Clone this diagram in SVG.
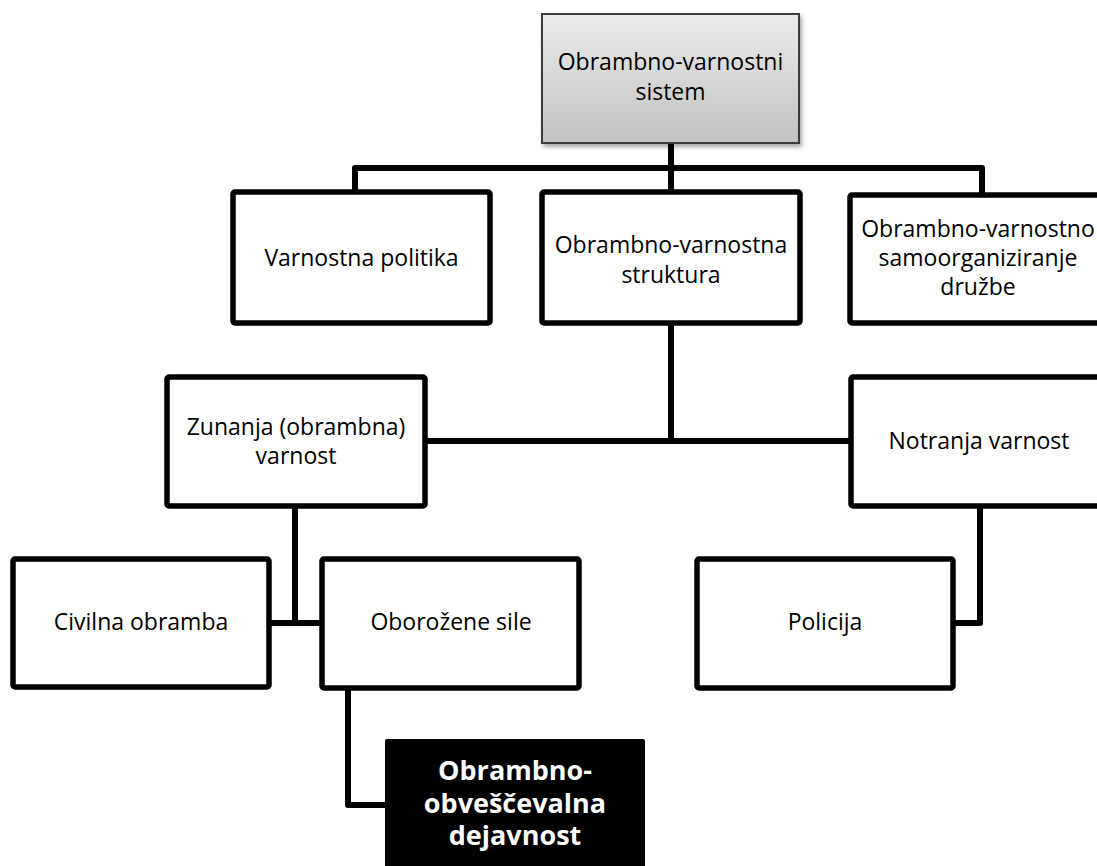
<svg xmlns="http://www.w3.org/2000/svg" width="1097" height="866" viewBox="0 0 1097 866">
<defs>
<linearGradient id="g" x1="0" y1="0" x2="0" y2="1">
<stop offset="0" stop-color="#ececec"/>
<stop offset="1" stop-color="#c2c2c2"/>
</linearGradient>
<filter id="sh" x="-10%" y="-10%" width="130%" height="130%">
<feDropShadow dx="2" dy="3" stdDeviation="2" flood-color="#000" flood-opacity="0.35"/>
</filter>
</defs>
<style>
.box{fill:#fff;stroke:#000;stroke-width:5.5}
.t{font-family:"Open Sans","Liberation Sans",sans-serif;font-size:23px;fill:#000;text-anchor:middle}
.b{font-family:"Open Sans","Liberation Sans",sans-serif;font-size:27px;font-weight:bold;fill:#fff;text-anchor:middle}
.c{fill:none;stroke:#000;stroke-width:6;stroke-linejoin:round}
</style>
<rect width="1097" height="866" fill="#fff"/>
<g id="connectors">
<path class="c" d="M671,143 V192 M355,192 V168 H982 V195"/>
<path class="c" d="M671,323 V441 M425,441 H851"/>
<path class="c" d="M295,506 V623 M269,623 H322"/>
<path class="c" d="M980,506 V623 H953"/>
<path class="c" d="M348,688 V805 H385"/>
</g>
<g id="n-sistem">
<rect x="542" y="14" width="257" height="129" fill="url(#g)" stroke="#3a3a3a" stroke-width="2" filter="url(#sh)"/>
<text class="t" x="670.5" y="70">Obrambno-varnostni</text>
<text class="t" x="670.5" y="100">sistem</text>
</g>
<g id="n-politika">
<rect class="box" x="233" y="192" width="257" height="131" rx="2"/>
<text class="t" x="361.5" y="266">Varnostna politika</text>
</g>
<g id="n-struktura">
<rect class="box" x="542" y="192" width="258" height="131" rx="2"/>
<text class="t" x="671" y="253">Obrambno-varnostna</text>
<text class="t" x="671" y="283">struktura</text>
</g>
<g id="n-samoorg">
<rect class="box" x="850" y="195" width="258" height="128" rx="2"/>
<text class="t" x="978" y="237">Obrambno-varnostno</text>
<text class="t" x="978" y="266">samoorganiziranje</text>
<text class="t" x="978" y="295">družbe</text>
</g>
<g id="n-zunanja">
<rect class="box" x="167" y="377" width="258" height="129" rx="2"/>
<text class="t" x="296" y="435">Zunanja (obrambna)</text>
<text class="t" x="296" y="464">varnost</text>
</g>
<g id="n-notranja">
<rect class="box" x="851" y="377" width="258" height="129" rx="2"/>
<text class="t" x="979" y="449">Notranja varnost</text>
</g>
<g id="n-civilna">
<rect class="box" x="13" y="559" width="256" height="128" rx="2"/>
<text class="t" x="141" y="630">Civilna obramba</text>
</g>
<g id="n-oborozene">
<rect class="box" x="322" y="559" width="257" height="129" rx="2"/>
<text class="t" x="451" y="630">Oborožene sile</text>
</g>
<g id="n-policija">
<rect class="box" x="697" y="559" width="256" height="129" rx="2"/>
<text class="t" x="825" y="630">Policija</text>
</g>
<g id="n-obvescevalna">
<rect x="385" y="739" width="260" height="140" rx="2" fill="#000"/>
<text class="b" x="515" y="780">Obrambno-</text>
<text class="b" x="515" y="813">obveščevalna</text>
<text class="b" x="515" y="845">dejavnost</text>
</g>
</svg>
